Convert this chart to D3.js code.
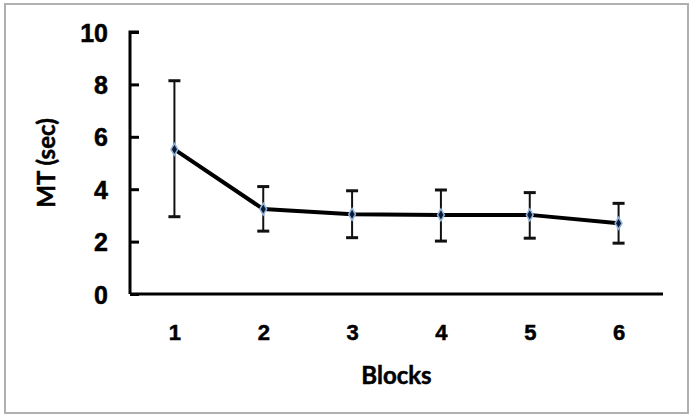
<!DOCTYPE html>
<html>
<head>
<meta charset="utf-8">
<script src="https://cdn.jsdelivr.net/npm/d3@7"></script>
<style>
  body { margin: 0; background: #fff; }
  svg { display: block; font-family: Lato, "Open Sans", sans-serif; }
  .lbl { font-weight: bold; stroke: #000; stroke-width: 0.5px; fill: #000; }
</style>
</head>
<body>
<svg></svg>
<script>
const blocks = ["1", "2", "3", "4", "5", "6"];
const meanMT = [5.52, 3.24, 3.04, 3.02, 3.02, 2.70];
const errLow = [2.95, 2.40, 2.15, 2.02, 2.13, 1.94];
const errHigh = [8.14, 4.10, 3.94, 3.97, 3.87, 3.46];
const yTicks = [0, 2, 4, 6, 8, 10];

const W = 693, H = 420;
const margin = {top: 32, right: 30, bottom: 126, left: 130};

const svg = d3.select("svg")
    .attr("width", W)
    .attr("height", H);

// outer frame
svg.append("rect")
    .attr("x", 5).attr("y", 4)
    .attr("width", 683).attr("height", 409)
    .attr("fill", "none")
    .attr("stroke", "#b0b0b0")
    .attr("stroke-width", 2);

const x = d3.scalePoint()
    .domain(blocks)
    .range([margin.left, W - margin.right])
    .padding(0.5);
const y = d3.scaleLinear()
    .domain([0, 10])
    .range([H - margin.bottom, margin.top]);

const data = blocks.map((b, i) => ({block: b, mean: meanMT[i], lo: errLow[i], hi: errHigh[i]}));

// y axis, ticks pointing inside
const yAxis = svg.append("g")
    .attr("transform", "translate(" + margin.left + ",0)")
    .call(d3.axisRight(y).tickValues(yTicks).tickSize(9).tickFormat(d3.format("d")));
yAxis.select(".domain")
    .attr("d", "M9," + y(10) + "H0V" + y(0))
    .attr("stroke", "#000").attr("stroke-width", 3);
yAxis.selectAll(".tick line").attr("stroke", "#000").attr("stroke-width", 3);
yAxis.selectAll(".tick text")
    .attr("class", "lbl")
    .attr("x", -22)
    .attr("text-anchor", "end")
    .attr("dy", "0.36em")
    .style("font-size", "25px");

// x axis: plain line with labels
const xAxis = svg.append("g")
    .attr("transform", "translate(0," + y(0) + ")")
    .call(d3.axisBottom(x).tickSize(0).tickPadding(30));
xAxis.select(".domain")
    .attr("d", "M" + margin.left + ",0H" + (W - margin.right))
    .attr("stroke", "#000").attr("stroke-width", 3);
xAxis.selectAll(".tick text")
    .attr("class", "lbl")
    .style("font-size", "22px");

// axis titles
svg.append("text")
    .attr("class", "lbl")
    .attr("x", x("3") + (x("4") - x("3")) / 2)
    .attr("y", 384)
    .attr("text-anchor", "middle")
    .style("font-size", "24px")
    .text("Blocks");
svg.append("text")
    .attr("class", "lbl")
    .attr("transform", "translate(55," + y(5) + ") rotate(-90)")
    .attr("text-anchor", "middle")
    .style("font-size", "24px")
    .text("MT (sec)");

// error bars
const eb = svg.append("g").attr("stroke", "#111").attr("stroke-width", 2);
eb.selectAll(".v").data(data).enter().append("line")
    .attr("x1", d => x(d.block)).attr("x2", d => x(d.block))
    .attr("y1", d => y(d.lo)).attr("y2", d => y(d.hi));
eb.selectAll(".top").data(data).enter().append("line")
    .attr("x1", d => x(d.block) - 6).attr("x2", d => x(d.block) + 6)
    .attr("y1", d => y(d.hi)).attr("y2", d => y(d.hi))
    .attr("stroke-width", 3);
eb.selectAll(".bot").data(data).enter().append("line")
    .attr("x1", d => x(d.block) - 6).attr("x2", d => x(d.block) + 6)
    .attr("y1", d => y(d.lo)).attr("y2", d => y(d.lo))
    .attr("stroke-width", 3);

// mean line
svg.append("path")
    .datum(data)
    .attr("fill", "none")
    .attr("stroke", "#000")
    .attr("stroke-width", 4)
    .attr("stroke-linejoin", "round")
    .attr("d", d3.line().x(d => x(d.block)).y(d => y(d.mean)));

// markers
svg.selectAll(".mk").data(data).enter().append("path")
    .attr("transform", d => "translate(" + x(d.block) + "," + y(d.mean) + ")")
    .attr("d", d3.symbol(d3.symbolDiamond, 40))
    .attr("fill", "#0b1a33")
    .attr("stroke", "#8fb3dd")
    .attr("stroke-width", 1.5);
</script>
</body>
</html>
